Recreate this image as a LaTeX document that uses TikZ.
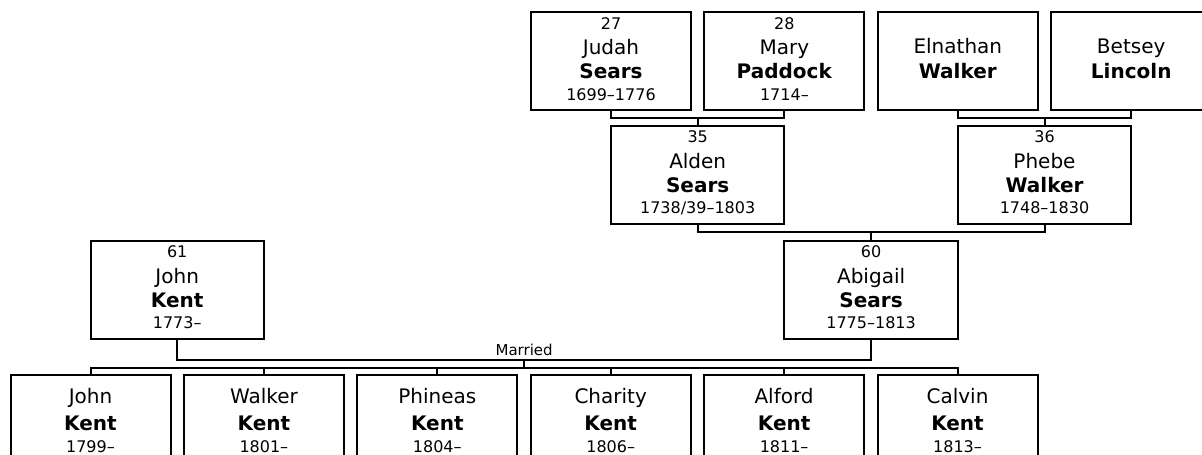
\documentclass[tikz,border=0pt]{standalone}
\usepackage{fontspec}
\setmainfont{DejaVu Sans}
\usetikzlibrary{calc, positioning}

\newcommand{\gen}[1]{{\fontsize{16}{19}\selectfont #1}}
\newcommand{\sur}[1]{\textbf{#1}}

\begin{document}
\begin{tikzpicture}[
x=1pt, y=1pt,
person/.style={draw, rectangle, line width=2pt, align=center, minimum width=160pt, minimum height=98pt, inner sep=2pt, outer sep=0pt, text depth=4.2pt, font=\fontsize{20}{24}\selectfont},
couple/.style={person, minimum width=173.4pt},
kid/.style={person, text depth=6.2pt},
link/.style={line width=2pt}
]

\path[use as bounding box, clip] (0,0) rectangle (1202,-455);

% ---------- GRANDPARENTS ----------

\node[person] (judah) at (611,-61)
{\gen{27}\\[1.5pt]
Judah\\
\sur{Sears}\\[-2.5pt]
\gen{1699--1776}};

\node[person, right=13.4pt of judah] (mary)
{\gen{28}\\[1.5pt]
Mary\\
\sur{Paddock}\\[-2.5pt]
\gen{1714--}};

\node[person, right=13.4pt of mary] (elnathan)
{Elnathan\\[1pt]
\sur{Walker}};

\node[person, right=13.4pt of elnathan] (betsey)
{Betsey\\[1pt]
\sur{Lincoln}};

% ---------- PARENTS ----------

\node[couple] (alden) at ($(judah)!.5!(mary)+(0,-113.5)$)
{\gen{35}\\[1.5pt]
Alden\\
\sur{Sears}\\[-2.5pt]
\gen{1738/39--1803}};

\node[couple] (phebe) at ($(elnathan)!.5!(betsey)+(0,-113.5)$)
{\gen{36}\\[1.5pt]
Phebe\\
\sur{Walker}\\[-2.5pt]
\gen{1748--1830}};

% ---------- CHILDREN ----------

\node[kid] (kidjohn) at (90.5,-423.5)
{John\\[3pt]
\sur{Kent}\\[-2pt]
\gen{1799--}};

\node[kid, right=13.4pt of kidjohn] (walker)
{Walker\\[3pt]
\sur{Kent}\\[-2pt]
\gen{1801--}};

\node[kid, right=13.4pt of walker] (phineas)
{Phineas\\[3pt]
\sur{Kent}\\[-2pt]
\gen{1804--}};

\node[kid, right=13.4pt of phineas] (charity)
{Charity\\[3pt]
\sur{Kent}\\[-2pt]
\gen{1806--}};

\node[kid, right=13.4pt of charity] (alford)
{Alford\\[3pt]
\sur{Kent}\\[-2pt]
\gen{1811--}};

\node[kid, right=13.4pt of alford] (calvin)
{Calvin\\[3pt]
\sur{Kent}\\[-2pt]
\gen{1813--}};

% ---------- COUPLE ----------

\node[couple] (john) at ($(kidjohn)!.5!(walker)+(0,134)$)
{\gen{61}\\[1.5pt]
John\\
\sur{Kent}\\[-2.5pt]
\gen{1773--}};

\node[couple] (abigail) at ($(alden)!.5!(phebe)+(0,-115)$)
{\gen{60}\\[1.5pt]
Abigail\\
\sur{Sears}\\[-2.5pt]
\gen{1775--1813}};

% ---------- LINKS ----------

\coordinate (searsbar) at ($(judah.south)!.5!(mary.south)+(0,-8)$);
\coordinate (walkerbar) at ($(elnathan.south)!.5!(betsey.south)+(0,-8)$);
\coordinate (aldenbar) at ($(alden.south)!.5!(phebe.south)+(0,-8)$);
\coordinate (married) at ($(john.south)!.5!(abigail.south)+(0,-21)$);
\coordinate (kidsbar) at ($(married)+(0,-8)$);

\draw[link] (judah.south) |- (searsbar) -| (mary.south);
\draw[link] (searsbar) -- (alden.north);

\draw[link] (elnathan.south) |- (walkerbar) -| (betsey.south);
\draw[link] (walkerbar) -- (phebe.north);

\draw[link] (alden.south) |- (aldenbar) -| (phebe.south);
\draw[link] (aldenbar) -- (abigail.north);

\draw[link] (john.south) |- (married) -| (abigail.south);
\node[above, inner sep=4pt, font=\fontsize{15}{18}\selectfont] (marriedlabel) at (married) {Married};
\draw[link] (married) -- (kidsbar);

\draw[link] (kidjohn.north) |- (kidsbar) -| (calvin.north);
\draw[link] (walker.north) -- (walker.north |- kidsbar);
\draw[link] (phineas.north) -- (phineas.north |- kidsbar);
\draw[link] (charity.north) -- (charity.north |- kidsbar);
\draw[link] (alford.north) -- (alford.north |- kidsbar);

\end{tikzpicture}
\end{document}
